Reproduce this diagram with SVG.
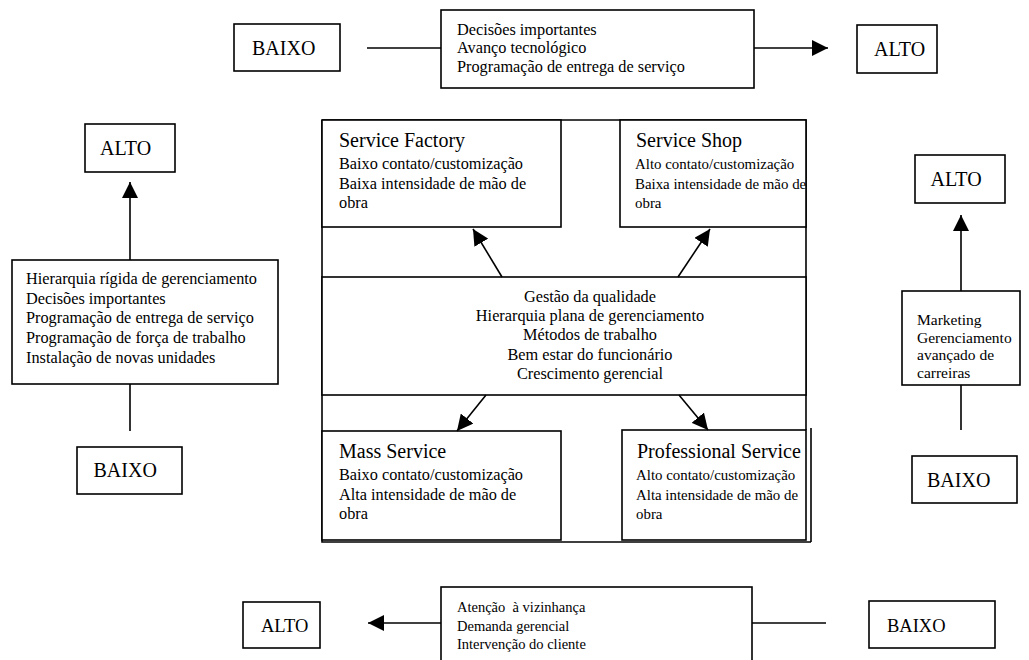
<svg xmlns="http://www.w3.org/2000/svg" width="1029" height="660" viewBox="0 0 1029 660" font-family="'Liberation Serif', 'DejaVu Serif', serif">
<style>
text{font-family:'Liberation Serif','DejaVu Serif',serif;fill:#000}
.box{fill:#fff;stroke:#000;stroke-width:1.6}
.lbl{font-size:20px}
.t{font-size:16.3px}
.tr{font-size:14.9px}
.tt{font-size:20px}
.s{font-size:15.5px}
.b{font-size:14.5px}
.ln{stroke:#000;stroke-width:1.6;fill:none}
.arr{stroke:#000;stroke-width:1.6;fill:none;marker-end:url(#ah)}
</style>
<defs>
<marker id="ah" viewBox="0 0 10 10" refX="10" refY="5" markerWidth="16" markerHeight="16" markerUnits="userSpaceOnUse" orient="auto">
<path d="M0,0 L10,5 L0,10 z" fill="#000"/>
</marker>
</defs>
<g id="connectors">
<line class="ln" x1="367" y1="48" x2="441" y2="48"/>
<line class="arr" x1="754" y1="48" x2="828" y2="48"/>
<line class="arr" x1="130" y1="260" x2="130" y2="182"/>
<line class="ln" x1="130" y1="384" x2="130" y2="431"/>
<line class="arr" x1="961" y1="291" x2="961" y2="215"/>
<line class="ln" x1="961" y1="385" x2="961" y2="430"/>
<line class="arr" x1="441" y1="623" x2="368" y2="623"/>
<line class="ln" x1="752" y1="623" x2="826" y2="623"/>
</g>
<g id="top-baixo"><rect class="box" x="234" y="24" width="106" height="47"/><text class="lbl" x="252" y="54.5">BAIXO</text></g>
<g id="top-factors"><rect class="box" x="441" y="10" width="313" height="78"/>
<text class="t"><tspan x="457" y="34.5">Decisões importantes</tspan><tspan x="457" y="53">Avanço tecnológico</tspan><tspan x="457" y="71.5">Programação de entrega de serviço</tspan></text></g>
<g id="top-alto"><rect class="box" x="857" y="25" width="80" height="48"/><text class="lbl" x="874" y="56">ALTO</text></g>
<g id="left-alto"><rect class="box" x="85" y="124" width="90" height="48"/><text class="lbl" x="100" y="154.5">ALTO</text></g>
<g id="left-factors"><rect class="box" x="12" y="260" width="266" height="124"/>
<text class="t"><tspan x="26" y="284">Hierarquia rígida de gerenciamento</tspan><tspan x="26" y="303.7">Decisões importantes</tspan><tspan x="26" y="323.4">Programação de entrega de serviço</tspan><tspan x="26" y="343">Programação de força de trabalho</tspan><tspan x="26" y="362.8">Instalação de novas unidades</tspan></text></g>
<g id="left-baixo"><rect class="box" x="77" y="447" width="105" height="47"/><text class="lbl" x="93.5" y="477">BAIXO</text></g>
<g id="right-alto"><rect class="box" x="915" y="155" width="90" height="48"/><text class="lbl" x="930.5" y="185.5">ALTO</text></g>
<g id="right-factors"><rect class="box" x="902" y="291" width="118" height="94"/>
<text class="s"><tspan x="917" y="325">Marketing</tspan><tspan x="917" y="342.5">Gerenciamento</tspan><tspan x="917" y="360">avançado de</tspan><tspan x="917" y="377.5">carreiras</tspan></text></g>
<g id="right-baixo"><rect class="box" x="912" y="456" width="105" height="47"/><text class="lbl" x="927" y="487">BAIXO</text></g>
<g id="bottom-alto"><rect class="box" x="243" y="602" width="77" height="46"/><text class="lbl" x="261" y="632" style="font-size:18.5px">ALTO</text></g>
<g id="bottom-factors"><rect class="box" x="441" y="587" width="311" height="80"/>
<text class="b" xml:space="preserve"><tspan x="457" y="612">Atenção  à vizinhança</tspan><tspan x="457" y="630.5">Demanda gerencial</tspan><tspan x="457" y="649">Intervenção do cliente</tspan></text></g>
<g id="bottom-baixo"><rect class="box" x="869" y="601" width="126" height="47"/><text class="lbl" x="887" y="632" style="font-size:18.5px">BAIXO</text></g>
<g id="matrix-frame">
<path class="ln" d="M322,120 H806 V430 M322,120 V542 H811 M811,428 V542"/>
</g>
<g id="center-band"><rect class="box" x="322" y="277" width="484" height="118"/>
<text class="t" text-anchor="middle"><tspan x="590" y="302">Gestão da qualidade</tspan><tspan x="590" y="321">Hierarquia plana de gerenciamento</tspan><tspan x="590" y="340">Métodos de trabalho</tspan><tspan x="590" y="359.5">Bem estar do funcionário</tspan><tspan x="590" y="378.5">Crescimento gerencial</tspan></text></g>
<g id="service-factory"><rect class="box" x="322" y="120" width="239" height="107"/>
<text class="tt" x="339" y="147">Service Factory</text>
<text class="t"><tspan x="339" y="169">Baixo contato/customização</tspan><tspan x="339" y="188.5">Baixa intensidade de mão de</tspan><tspan x="339" y="208">obra</tspan></text></g>
<g id="service-shop"><rect class="box" x="620" y="120" width="186" height="107"/>
<text class="tt" x="636" y="147">Service Shop</text>
<text class="tr"><tspan x="635" y="169">Alto contato/customização</tspan><tspan x="635" y="188.5">Baixa intensidade de mão de</tspan><tspan x="635" y="208">obra</tspan></text></g>
<g id="mass-service"><rect class="box" x="322" y="431" width="239" height="109"/>
<text class="tt" x="339" y="458">Mass Service</text>
<text class="t"><tspan x="339" y="480">Baixo contato/customização</tspan><tspan x="339" y="499.5">Alta intensidade de mão de</tspan><tspan x="339" y="519">obra</tspan></text></g>
<g id="professional-service"><rect class="box" x="622" y="430" width="184" height="110"/>
<text class="tt" x="637" y="458">Professional Service</text>
<text class="tr"><tspan x="636" y="480">Alto contato/customização</tspan><tspan x="636" y="499.5">Alta intensidade de mão de</tspan><tspan x="636" y="519">obra</tspan></text></g>
<g id="matrix-arrows">
<line class="arr" x1="502" y1="277" x2="473" y2="229"/>
<line class="arr" x1="678" y1="277" x2="710" y2="229"/>
<line class="arr" x1="486" y1="395" x2="457" y2="431"/>
<line class="arr" x1="679" y1="395" x2="708" y2="430"/>
</g>
</svg>
